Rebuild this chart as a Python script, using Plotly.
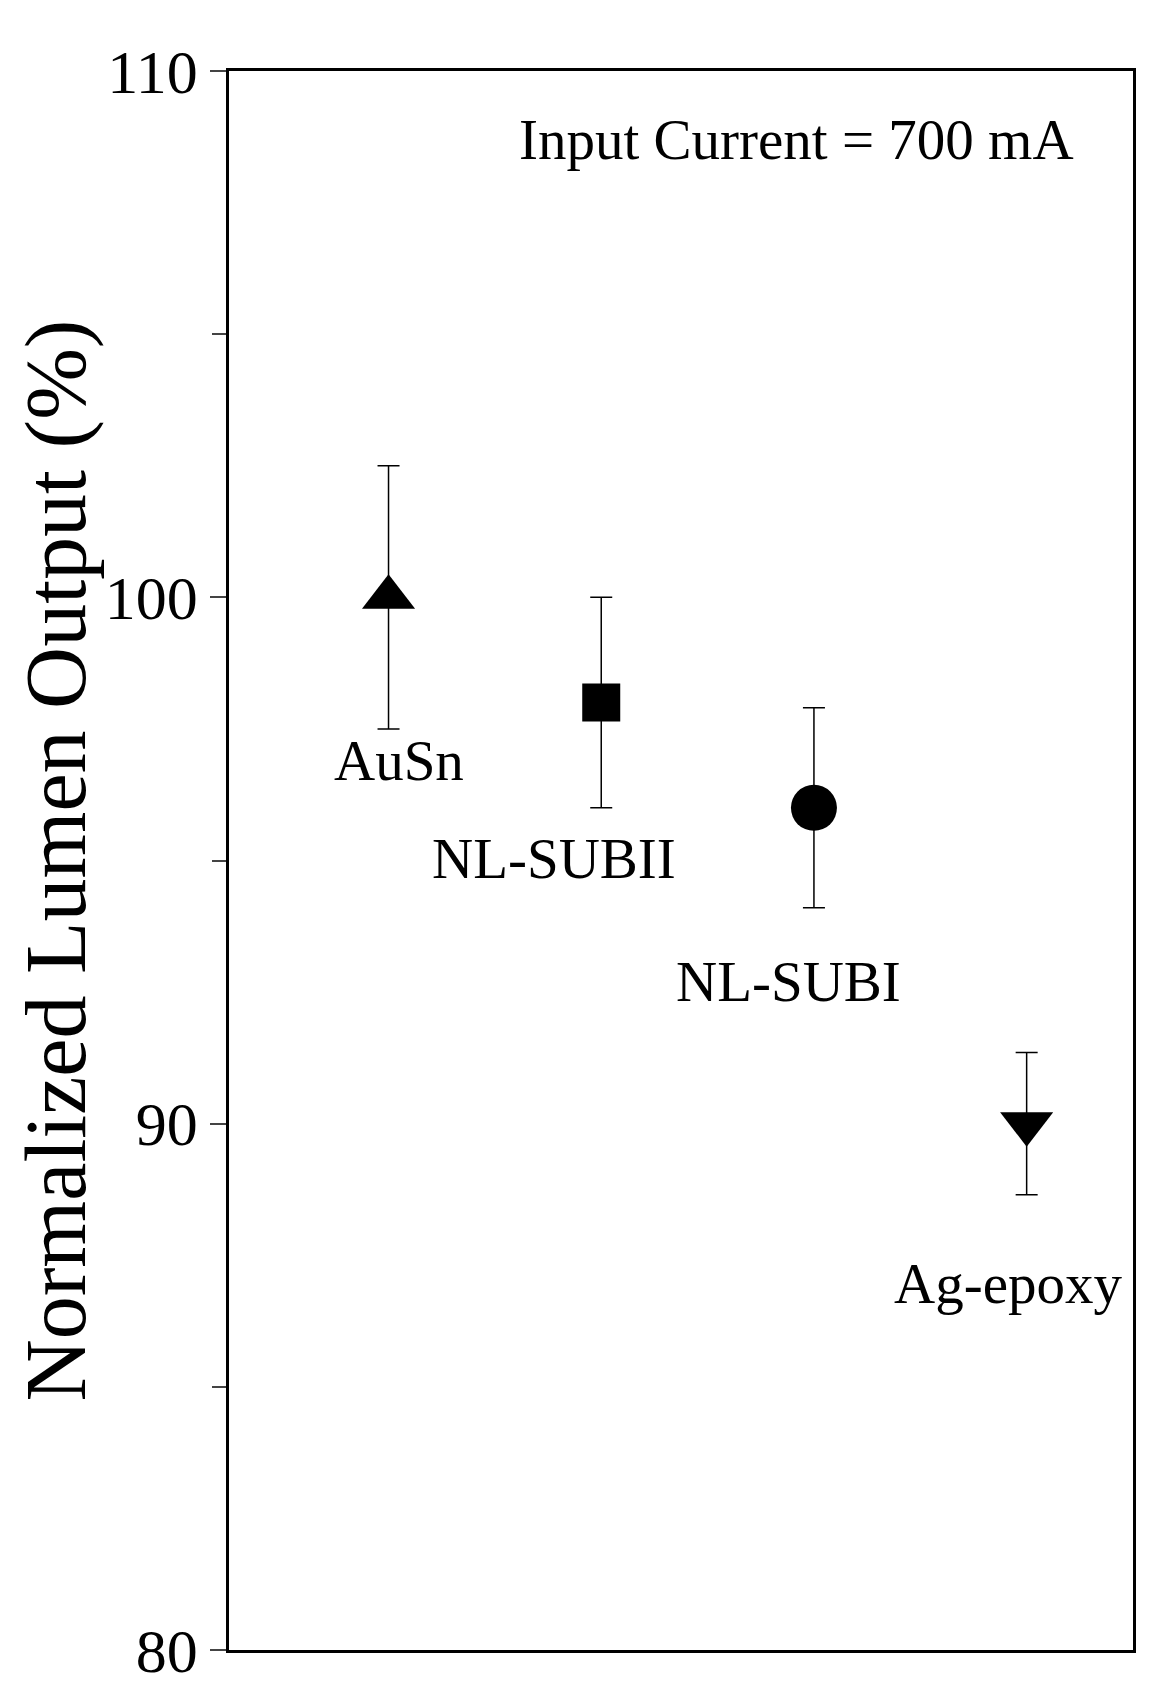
import plotly.graph_objects as go

samples = ['AuSn', 'NL-SUBII', 'NL-SUBI', 'Ag-epoxy']
x_pos = [1, 2, 3, 4]
lumen = [100.0, 98.0, 96.0, 90.0]
err_plus = [2.5, 2.0, 1.9, 1.35]
err_minus = [2.5, 2.0, 1.9, 1.35]
symbols = ['triangle-up', 'square', 'circle', 'triangle-down']
label_x = [1.05, 1.78, 2.88, 3.91]
label_y = [96.9, 95.04, 92.7, 86.97]

font = 'Liberation Serif'
fig = go.Figure()
for i in range(len(samples)):
    fig.add_trace(go.Scatter(
        x=[x_pos[i]], y=[lumen[i]], mode='markers',
        marker=dict(symbol=symbols[i], size=46 if symbols[i] != 'square' else 38, color='black'),
        error_y=dict(type='data', array=[err_plus[i]], arrayminus=[err_minus[i]],
                     color='black', thickness=1.5, width=11),
        showlegend=False))
    fig.add_annotation(x=label_x[i], y=label_y[i], text=samples[i], showarrow=False,
                       font=dict(family=font, size=57, color='black'))

fig.add_annotation(x=2.92, y=108.69, text='Input Current = 700 mA', showarrow=False,
                   font=dict(family=font, size=57, color='black'))

fig.update_layout(
    width=1162, height=1696, plot_bgcolor='white', paper_bgcolor='white',
    margin=dict(l=221, r=37, t=63, b=54),
    xaxis=dict(range=[0.25, 4.5], showticklabels=False, ticks='', showgrid=False,
               zeroline=False, showline=True, linecolor='black', linewidth=2.5, mirror=True),
    yaxis=dict(range=[80, 110], tickvals=[80, 90, 100, 110], ticks='outside', ticklen=16,
               tickwidth=1.5, showgrid=False, zeroline=False, showline=True,
               linecolor='black', linewidth=2.5, mirror=True,
               minor=dict(tickvals=[85, 95, 105], ticks='outside', ticklen=14, tickwidth=1.5),
               tickfont=dict(family=font, size=62, color='black'),
               title=dict(text='Normalized Lumen Output (%)', standoff=22,
                          font=dict(family=font, size=86, color='black'))),
)
fig.write_html('out.html')
